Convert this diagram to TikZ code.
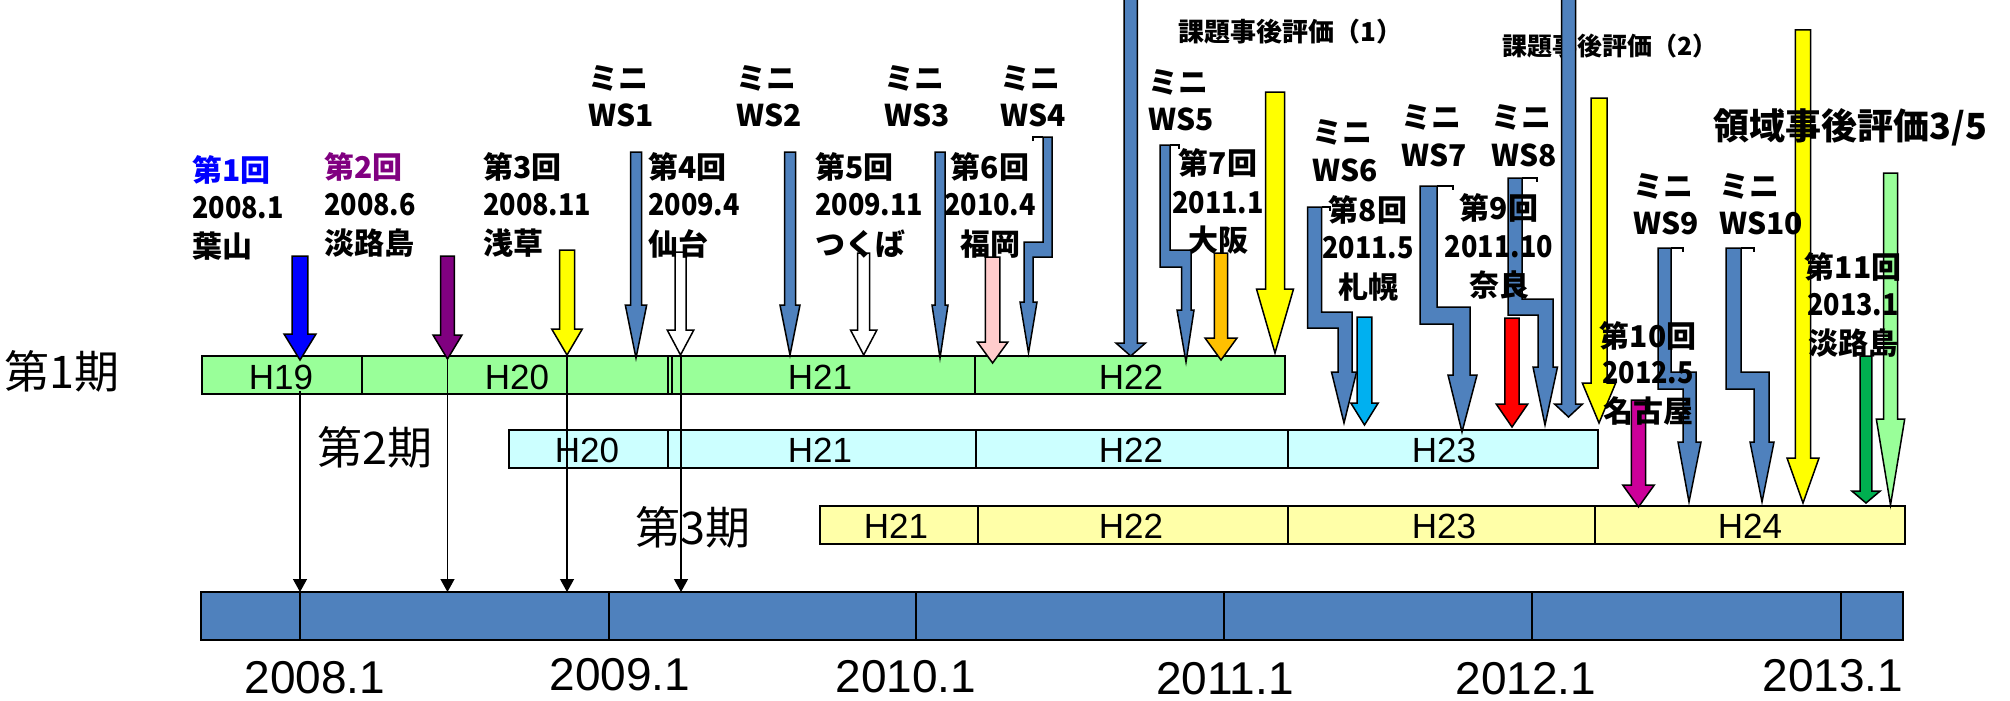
\documentclass[tikz,border=0pt]{standalone}
\usepackage{fontspec}
\usepackage{graphicx}
\newfontfamily\jp{Noto Sans CJK JP}
\newfontfamily\ar{Liberation Sans}
\usetikzlibrary{arrows.meta}
\definecolor{wsblue}{HTML}{4F81BD}
\definecolor{bargreen}{HTML}{99FF99}
\definecolor{barcyan}{HTML}{CCFFFF}
\definecolor{baryellow}{HTML}{FFFFA8}
\definecolor{evblue}{HTML}{0000FF}
\definecolor{evpurple}{HTML}{800080}
\definecolor{evyellow}{HTML}{FFFF00}
\definecolor{evpink}{HTML}{FFCCCC}
\definecolor{evorange}{HTML}{FFC000}
\definecolor{evcyan}{HTML}{00B0F0}
\definecolor{evred}{HTML}{FF0000}
\definecolor{evmagenta}{HTML}{CC0099}
\definecolor{evdgreen}{HTML}{00B050}
\newcommand\N[1]{\scalebox{0.9}[1]{#1}}
\tikzset{
  evarrow/.style={draw=black, line width=1.5pt, line join=miter},
  barbox/.style={draw=black, line width=2pt, inner sep=0pt, outer sep=0pt, anchor=north west},
  divider/.style={draw=black, line width=1.2pt},
  thinarr/.style={draw=black, line width=1.3pt, -{Triangle[length=13pt,width=14pt]}},
  lab/.style={inner sep=0pt, font={\jp\bfseries\fontsize{30}{30}\selectfont}},
  ki/.style={inner sep=0pt, font={\jp\fontsize{45}{45}\selectfont}},
  hlab/.style={inner sep=0pt, font={\ar\fontsize{35}{35}\selectfont}},
  ylab/.style={inner sep=0pt, font={\ar\fontsize{46}{46}\selectfont}},
  bracket/.style={draw=black, line width=1.5pt},
}
\newcommand\blockarr[7]{%
  \filldraw[evarrow, fill=#7] ({#1-#3},#2) -- ({#1+#3},#2) -- ({#1+#3},#4) -- ({#1+#5},#4) -- (#1,#6) -- ({#1-#5},#4) -- ({#1-#3},#4) -- cycle;}
\begin{document}
\begin{tikzpicture}[x=1pt,y=-1pt]
\useasboundingbox (0,0) rectangle (2010,701);
\clip (0,0) rectangle (2010,701);

% ---- bars ----
\node[barbox, fill=bargreen, minimum width=1083pt, minimum height=38pt] (bar1) at (202,356) {};
\draw[divider] (362,356) -- (362,394);
\draw[divider] (668,356) -- (668,394);
\draw[divider] (672,356) -- (672,394);
\draw[divider] (975,356) -- (975,394);
\node[hlab] (b1h19) at (281,377) {H19};
\node[hlab] (b1h20) at (517,377) {H20};
\node[hlab] (b1h21) at (820,377) {H21};
\node[hlab] (b1h22) at (1131,377) {H22};

\node[barbox, fill=barcyan, minimum width=1089pt, minimum height=38pt] (bar2) at (509,430) {};
\draw[divider] (668,430) -- (668,468);
\draw[divider] (976,430) -- (976,468);
\draw[divider] (1288,430) -- (1288,468);
\node[hlab] (b2h20) at (587,450) {H20};
\node[hlab] (b2h21) at (820,450) {H21};
\node[hlab] (b2h22) at (1131,450) {H22};
\node[hlab] (b2h23) at (1444,450) {H23};

\node[barbox, fill=baryellow, minimum width=1085pt, minimum height=38pt] (bar3) at (820,506) {};
\draw[divider] (978,506) -- (978,544);
\draw[divider] (1288,506) -- (1288,544);
\draw[divider] (1595,506) -- (1595,544);
\node[hlab] (b3h21) at (896,526) {H21};
\node[hlab] (b3h22) at (1131,526) {H22};
\node[hlab] (b3h23) at (1444,526) {H23};
\node[hlab] (b3h24) at (1750,526) {H24};

\node[barbox, fill=wsblue, minimum width=1702pt, minimum height=48pt] (tl) at (201,592) {};
\foreach \dx in {300,609,916,1224,1532,1841} {\draw[divider] (\dx,592) -- (\dx,640);}

\node[ki] (k1) at (62,371) {第1期};
\node[ki] (k2) at (375,447) {第2期};
\node[ki] (k3) at (693,527) {第3期};

\node[ylab] (y08) at (315,678) {2008.1};
\node[ylab] (y09) at (620,675) {2009.1};
\node[ylab] (y10) at (906,677) {2010.1};
\node[ylab] (y11) at (1225,679) {2011.1};
\node[ylab] (y12) at (1526,679) {2012.1};
\node[ylab] (y13) at (1833,676) {2013.1};

% ---- thin arrows to the time line ----
\coordinate (s1) at (300,391);
\coordinate (s2) at (447.5,356);
\coordinate (s3) at (567,356);
\coordinate (s4) at (681,356);
\foreach \s in {s1,s2,s3,s4} {\draw[thinarr] (\s) -- (\s |- tl.north);}

% ---- straight event arrows ----
\blockarr{300}{256}{7.8}{334}{16}{360}{evblue}
\blockarr{447.5}{256}{6.8}{335}{14.5}{359}{evpurple}
\blockarr{567}{250}{7.5}{329}{15.3}{355}{evyellow}
\blockarr{636}{152}{5.5}{305}{10.7}{358}{wsblue}
\blockarr{680.5}{252}{5.5}{330}{13.3}{355}{white}
\blockarr{790}{152}{5.5}{305}{10}{355}{wsblue}
\blockarr{863.7}{253}{6}{330}{13.2}{355}{white}
\blockarr{940}{152}{5}{305}{8}{358}{wsblue}
\blockarr{992.6}{257}{7.2}{342}{15.3}{363}{evpink}
\blockarr{1130.7}{-10}{6.7}{343}{14.8}{356}{wsblue}
\blockarr{1221}{253}{6.7}{338}{16}{360}{evorange}
\blockarr{1275}{92}{9.5}{289}{18.5}{353}{evyellow}
\blockarr{1364.5}{317}{7.3}{403}{13.7}{425}{evcyan}
\blockarr{1512}{318}{7.2}{404}{15.8}{427}{evred}
\blockarr{1599}{98}{8}{383}{16.7}{423}{evyellow}
\blockarr{1638.5}{400}{7.2}{485}{15.8}{507}{evmagenta}
\blockarr{1803}{30}{7.7}{458}{16}{503}{evyellow}
\blockarr{1866}{356}{5.8}{491}{14.2}{503}{evdgreen}
\blockarr{1890.5}{173}{7}{419}{14.2}{505}{bargreen}

% ---- bent WS arrows ----
% WS4
\filldraw[evarrow, fill=wsblue] (1043,137) -- (1052,137) -- (1052,257) -- (1033,257) -- (1033,302) -- (1037,302) -- (1028.5,353) -- (1020,302) -- (1024,302) -- (1024,242) -- (1043,242) -- cycle;
\draw[bracket] (1033,141) -- (1033,137) -- (1043,137);
% WS5
\filldraw[evarrow, fill=wsblue] (1160,145) -- (1170,145) -- (1170,250) -- (1191,250) -- (1191,310) -- (1194,310) -- (1186,362) -- (1177,310) -- (1181.5,310) -- (1181.5,267) -- (1160,267) -- cycle;
\draw[bracket] (1170,145) -- (1179,145) -- (1179,149);
% WS6
\filldraw[evarrow, fill=wsblue] (1307.5,207) -- (1321.5,207) -- (1321.5,312) -- (1352,312) -- (1352,372) -- (1356.5,372) -- (1344,423) -- (1331.5,372) -- (1338,372) -- (1338,328) -- (1307.5,328) -- cycle;
\draw[bracket] (1321.5,207) -- (1330,207) -- (1330,211);
% WS7
\filldraw[evarrow, fill=wsblue] (1420,186) -- (1437,186) -- (1437,307) -- (1470,307) -- (1470,375) -- (1477,375) -- (1462,432) -- (1448,375) -- (1453,375) -- (1453,324) -- (1420,324) -- cycle;
\draw[bracket] (1437,186) -- (1453,186) -- (1453,190);
% WS8
\filldraw[evarrow, fill=wsblue] (1508,178) -- (1522,178) -- (1522,299) -- (1553,299) -- (1553,367) -- (1557.5,367) -- (1545,425) -- (1533,367) -- (1538,367) -- (1538,315) -- (1508,315) -- cycle;
\draw[bracket] (1522,178) -- (1537,178) -- (1537,182);
% WS9
\filldraw[evarrow, fill=wsblue] (1658,248) -- (1671,248) -- (1671,372) -- (1696,372) -- (1696,442) -- (1701,442) -- (1689,502) -- (1678,442) -- (1683,442) -- (1683,389) -- (1658,389) -- cycle;
\draw[bracket] (1671,248) -- (1683,248) -- (1683,252);
% WS10
\filldraw[evarrow, fill=wsblue] (1726,248) -- (1741,248) -- (1741,372) -- (1769,372) -- (1769,442) -- (1774,442) -- (1762,502) -- (1750,442) -- (1754,442) -- (1754,389) -- (1726,389) -- cycle;
\draw[bracket] (1741,248) -- (1754,248) -- (1754,252);

% ---- event labels ----
\node[lab, anchor=west, text=evblue] (e1a) at (192,170) {第1回};
\node[lab, anchor=west] (e1b) at (192,208) {\N{2008.1}};
\node[lab, anchor=west] (e1c) at (192,246) {葉山};
\node[lab, anchor=west, text=evpurple] (e2a) at (324,167) {第2回};
\node[lab, anchor=west] (e2b) at (324,205) {\N{2008.6}};
\node[lab, anchor=west] (e2c) at (324,243) {淡路島};
\node[lab, anchor=west] (e3a) at (483,167) {第3回};
\node[lab, anchor=west] (e3b) at (483,205) {\N{2008.11}};
\node[lab, anchor=west] (e3c) at (483,243) {浅草};
\node[lab, anchor=west] (e4a) at (648,167) {第4回};
\node[lab, anchor=west] (e4b) at (648,205) {\N{2009.4}};
\node[lab, anchor=west] (e4c) at (648,244) {仙台};
\node[lab, anchor=west] (e5a) at (815,167) {第5回};
\node[lab, anchor=west] (e5b) at (815,205) {\N{2009.11}};
\node[lab, anchor=west] (e5c) at (815,244) {つくば};
\node[lab] (e6a) at (990,167) {第6回};
\node[lab] (e6b) at (990,205) {\N{2010.4}};
\node[lab] (e6c) at (990,244) {福岡};
\node[lab] (e7a) at (1218,163) {第7回};
\node[lab] (e7b) at (1218,203) {\N{2011.1}};
\node[lab] (e7c) at (1218,240) {大阪};
\node[lab] (e8a) at (1368,210) {第8回};
\node[lab] (e8b) at (1368,248) {\N{2011.5}};
\node[lab] (e8c) at (1368,287) {札幌};
\node[lab] (e9a) at (1499,208) {第9回};
\node[lab] (e9b) at (1499,247) {\N{2011.10}};
\node[lab] (e9c) at (1499,285) {奈良};
\node[lab] (e10a) at (1648,336) {第10回};
\node[lab] (e10b) at (1648,373) {\N{2012.5}};
\node[lab] (e10c) at (1648,411) {名古屋};
\node[lab] (e11a) at (1853,267) {第11回};
\node[lab] (e11b) at (1853,305) {\N{2013.1}};
\node[lab] (e11c) at (1853,343) {淡路島};

% ---- mini WS labels ----
\foreach \nm/\xx/\ya/\yb/\ws in {w1/588/78/115/WS1, w2/736/78/115/WS2, w3/884/78/115/WS3, w4/1000/78/115/WS4, w5/1148/82/119/WS5, w6/1312/132/170/WS6, w7/1401/117/155/WS7, w8/1491/117/155/WS8, w9/1633/186/223/WS9, w10/1719/186/223/WS10} {
  \node[lab, anchor=west] (\nm a) at (\xx,\ya) {ミニ};
  \node[lab, anchor=west] (\nm b) at (\xx,\yb) {\ws};
}

% ---- evaluation labels ----
\node[lab, anchor=west, font={\jp\bfseries\fontsize{26}{26}\selectfont}] (ev1) at (1178,32) {課題事後評価（1）};
\node[lab, anchor=west, font={\jp\bfseries\fontsize{25}{25}\selectfont}] (ev2) at (1502,46) {課題事後評価（2）};
\node[lab, anchor=west, font={\jp\bfseries\fontsize{36}{36}\selectfont}] (ev3) at (1713,127) {領域事後評価3/5};

% big arrow drawn above its label
\blockarr{1568.5}{-10}{7}{404}{14}{417}{wsblue}
\end{tikzpicture}
\end{document}
